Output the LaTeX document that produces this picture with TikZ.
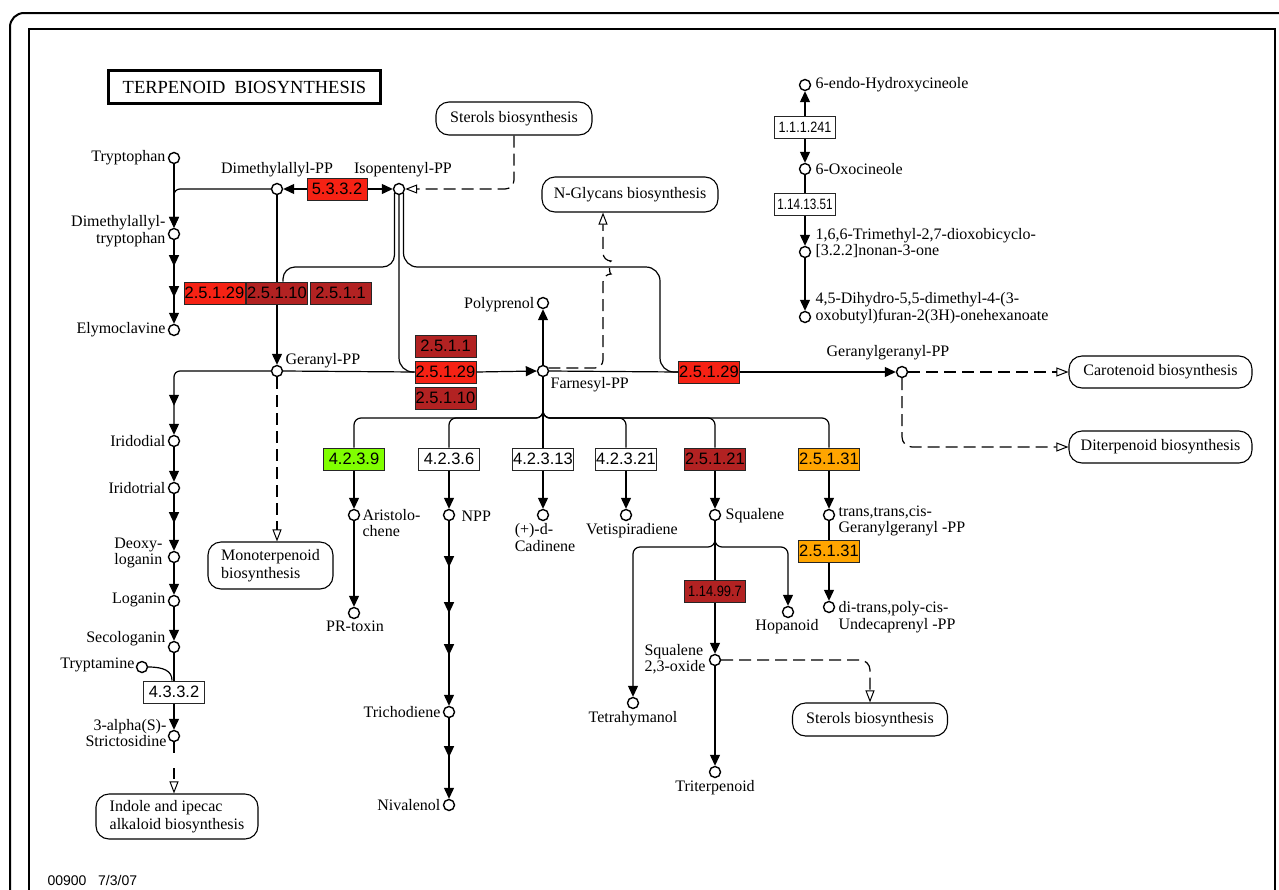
\documentclass[tikz,border=0pt]{standalone}
\usepackage{fontspec}
\setmainfont{Liberation Serif}
\setsansfont{Liberation Sans}
\usetikzlibrary{arrows.meta,decorations.markings}
\definecolor{ered}{RGB}{246,34,20}
\definecolor{edark}{RGB}{178,34,34}
\definecolor{egreen}{RGB}{128,255,0}
\definecolor{eorange}{RGB}{255,165,0}
\tikzset{
  cpd/.style={circle,draw,line width=1.4pt,fill=white,minimum size=11pt,inner sep=0pt},
  lbl/.style={font=\fontsize{16}{16.5}\selectfont,inner sep=0pt},
  enz/.style={draw=black!85,line width=1pt,minimum width=61pt,minimum height=22pt,inner sep=0pt,font=\sffamily\fontsize{16.5}{17}\selectfont},
  enzs/.style={enz,font=\sffamily\fontsize{15}{15}\selectfont},
  mapbox/.style={draw,line width=1.1pt,rounded corners=13pt,inner sep=0pt,align=left,font=\fontsize{16}{17.5}\selectfont},
  arr/.style={-{Triangle[length=11pt,width=10pt]}},
  oarr/.style={-{Triangle[open,length=12pt,width=9pt,line width=1pt]}},
  dsh/.style={dash pattern=on 12pt off 6pt},
  marr/.style={postaction={decorate,decoration={markings,mark=at position #1 with {\arrow{Triangle[length=11pt,width=10pt]}}}}},
}
\begin{document}
\begin{tikzpicture}[x=1pt,y=-1pt,line width=1.2pt]
\useasboundingbox (0,0) rectangle (1279,889);
\clip (0,0) rectangle (1279,889);
\fill[white] (0,0) rectangle (1279,889);
% frames
\draw[line width=2pt,rounded corners=14pt] (10,13) rectangle (1310,920);
\draw[line width=1.6pt] (29,29) rectangle (1275,920);
% title
\node[draw,line width=3pt,minimum width=272pt,minimum height=33pt,inner sep=0pt,font=\fontsize{18.5}{19}\selectfont] (title) at (244.5,87) {TERPENOID\ \ BIOSYNTHESIS};
\node[font=\sffamily\fontsize{14}{14}\selectfont,anchor=west,inner sep=0pt] (foot) at (47,880) {00900\ \ \ 7/3/07};

% compounds
\node[cpd] (trp) at (174,158) {};
\node[cpd] (dmapp) at (277,189) {};
\node[cpd] (ipp) at (399,189) {};
\node[cpd] (dmat) at (174,234) {};
\node[cpd] (elym) at (174,330) {};
\node[cpd] (gpp) at (277,371) {};
\node[cpd] (fpp) at (543,371) {};
\node[cpd] (polyp) at (543,303) {};
\node[cpd] (ggpp) at (902,372) {};
\node[cpd] (irid) at (174,441) {};
\node[cpd] (iridt) at (174,488) {};
\node[cpd] (deoxy) at (174,557) {};
\node[cpd] (logan) at (174,601) {};
\node[cpd] (seco) at (174,647) {};
\node[cpd] (tryptam) at (142,667) {};
\node[cpd] (strict) at (174,736) {};
\node[cpd] (aristo) at (354,515) {};
\node[cpd] (prtox) at (354,613) {};
\node[cpd] (npp) at (449,515) {};
\node[cpd] (trich) at (449,712) {};
\node[cpd] (nival) at (449,805) {};
\node[cpd] (cadin) at (543,515) {};
\node[cpd] (vetis) at (626,515) {};
\node[cpd] (squal) at (715,515) {};
\node[cpd] (tetra) at (633,703) {};
\node[cpd] (hopan) at (788,612) {};
\node[cpd] (sqox) at (715,660) {};
\node[cpd] (triterp) at (715,772) {};
\node[cpd] (ttc) at (829,515) {};
\node[cpd] (ditrans) at (829,607) {};
\node[cpd] (endo) at (805,85) {};
\node[cpd] (oxoc) at (805,169) {};
\node[cpd] (trime) at (805,252) {};
\node[cpd] (dihyd) at (805,317) {};

% compound labels
\node[lbl,anchor=east] (ltrp) at (166,158) {Tryptophan};
\node[lbl,anchor=base] (ldmapp) at (277,173) {Dimethylallyl-PP};
\node[lbl,anchor=base] (lipp) at (403,173) {Isopentenyl-PP};
\node[lbl,anchor=east,align=right] (ldmat) at (166,231) {Dimethylallyl-\\tryptophan};
\node[lbl,anchor=east] (lelym) at (166,330) {Elymoclavine};
\node[lbl,anchor=base west] (lgpp) at (285,364) {Geranyl-PP};
\node[lbl,anchor=base east] (lpolyp) at (535,308) {Polyprenol};
\node[lbl,anchor=base west] (lfpp) at (550,388) {Farnesyl-PP};
\node[lbl,anchor=base] (lggpp) at (888,356) {Geranylgeranyl-PP};
\node[lbl,anchor=east] (lirid) at (166,441) {Iridodial};
\node[lbl,anchor=east] (liridt) at (166,488) {Iridotrial};
\node[lbl,anchor=east,align=right] (ldeoxy) at (163,553) {Deoxy-\\loganin};
\node[lbl,anchor=east] (llogan) at (166,600) {Loganin};
\node[lbl,anchor=east] (lseco) at (166,639) {Secologanin};
\node[lbl,anchor=east] (ltryptam) at (135,665) {Tryptamine};
\node[lbl,anchor=east,align=right] (lstrict) at (167,733) {3-alpha(S)-\\Strictosidine};
\node[lbl,anchor=west,align=left] (laristo) at (362,523) {Aristolo-\\chene};
\node[lbl,anchor=west] (lnpp) at (461,516) {NPP};
\node[lbl,anchor=north,align=left] (lcadin) at (545,523) {(+)-d-\\Cadinene};
\node[lbl,anchor=north] (lvetis) at (632,523) {Vetispiradiene};
\node[lbl,anchor=west] (lsqual) at (725,516) {Squalene};
\node[lbl,anchor=north] (lprtox) at (355,620) {PR-toxin};
\node[lbl,anchor=east] (ltrich) at (441,712) {Trichodiene};
\node[lbl,anchor=east] (lnival) at (441,805) {Nivalenol};
\node[lbl,anchor=north] (ltetra) at (633,711) {Tetrahymanol};
\node[lbl,anchor=north] (lhopan) at (787,619) {Hopanoid};
\node[lbl,anchor=east,align=left] (lsqox) at (706,659) {Squalene\\2,3-oxide};
\node[lbl,anchor=north] (ltriterp) at (715,780) {Triterpenoid};
\node[lbl,anchor=west,align=left] (lttc) at (838,521) {trans,trans,cis-\\Geranylgeranyl -PP};
\node[lbl,anchor=west,align=left] (lditrans) at (838,617) {di-trans,poly-cis-\\Undecaprenyl -PP};
\node[lbl,anchor=west] (lendo) at (815,85) {6-endo-Hydroxycineole};
\node[lbl,anchor=west] (loxoc) at (815,169) {6-Oxocineole};
\node[lbl,anchor=west,align=left] (ltrime) at (815,243) {1,6,6-Trimethyl-2,7-dioxobicyclo-\\{}[3.2.2]nonan-3-one};
\node[lbl,anchor=west,align=left] (ldihyd) at (815,308) {4,5-Dihydro-5,5-dimethyl-4-(3-\\oxobutyl)furan-2(3H)-onehexanoate};

% enzymes
\node[enz,fill=ered,minimum width=60pt] (e5332) at (337,189) {5.3.3.2};
\node[enz,fill=ered] (e25129a) at (214.5,293) {2.5.1.29};
\node[enz,fill=edark] (e25110a) at (277,293) {2.5.1.10};
\node[enz,fill=edark] (e2511a) at (340.5,293) {2.5.1.1};
\node[enz,fill=edark] (e2511b) at (445.5,346) {2.5.1.1};
\node[enz,fill=ered] (e25129b) at (445.5,372) {2.5.1.29};
\node[enz,fill=edark] (e25110b) at (445.5,398) {2.5.1.10};
\node[enz,fill=ered] (e25129c) at (709,372) {2.5.1.29};
\node[enz,fill=egreen] (e4239) at (354,459) {4.2.3.9};
\node[enz,fill=white] (e4236) at (449,459) {4.2.3.6};
\node[enz,fill=white] (e42313) at (543,459) {4.2.3.13};
\node[enz,fill=white] (e42321) at (626,459) {4.2.3.21};
\node[enz,fill=edark] (e25121) at (715,459) {2.5.1.21};
\node[enz,fill=eorange] (e25131a) at (829,459) {2.5.1.31};
\node[enz,fill=eorange] (e25131b) at (829,551) {2.5.1.31};
\node[enzs,fill=edark] (e114997) at (715,591) {\scalebox{0.86}[1]{1.14.99.7}};
\node[enz,fill=white] (e4332) at (174,692) {4.3.3.2};
\node[enzs,fill=white] (e111241) at (805,127.5) {\scalebox{0.84}[1]{1.1.1.241}};
\node[enzs,fill=white] (e1141351) at (805,204.5) {\scalebox{0.78}[1]{1.14.13.51}};

% maps
\node[mapbox,minimum width=156pt,minimum height=33pt] (sterA) at (514,118.5) {Sterols biosynthesis};
\node[mapbox,minimum width=176pt,minimum height=35pt] (nglyc) at (630,194.5) {N-Glycans biosynthesis};
\node[mapbox,minimum width=183pt,minimum height=32pt] (carot) at (1160.5,372) {Carotenoid biosynthesis};
\node[mapbox,minimum width=183pt,minimum height=32pt] (diterp) at (1160.5,447) {Diterpenoid biosynthesis};
\node[mapbox,minimum width=125pt,minimum height=47pt] (monot) at (270.5,565.5) {Monoterpenoid\\biosynthesis};
\node[mapbox,minimum width=162pt,minimum height=45pt] (indole) at (177,816.5) {Indole and ipecac\\alkaloid biosynthesis};
\node[mapbox,minimum width=155pt,minimum height=33pt] (sterB) at (870,719.5) {Sterols biosynthesis};

% connectors: top
\draw[arr] (e5332.west) -- (dmapp.east);
\draw[arr] (e5332.east) -- (ipp.west);
\draw[dsh,oarr,rounded corners=9pt] (sterA.south) -- (514,189) -- (ipp.east);
\draw[arr] (trp) -- (dmat);
\draw[arr,rounded corners=6pt] (dmapp.west) -- (174,189) -- (dmat.north);
\draw[arr,marr=26pt,marr=57pt] (dmat) -- (elym);
\draw (dmapp) -- (e25110a);
\draw[arr] (e25110a) -- (gpp);
\draw[rounded corners=12pt] (ipp.-137) -- (394.5,267) -- (283,267) -- ([xshift=6pt]e25110a.north);
\draw[rounded corners=14pt] (ipp.south) -- (399,372) -- (e25129b.west);
\draw[rounded corners=14pt] (ipp.-43) -- (403.5,267) -- (660,267) -- (660,372) -- (e25129c.west);
\draw (gpp.east) -- (e25129b.west);
\draw[arr] (e25129b.east) -- (fpp.west);
\draw (fpp.east) -- (e25129c.west);
\draw[arr] (e25129c.east) -- (ggpp.west);
\draw[arr] (fpp) -- (polyp);
\draw[dsh,oarr,rounded corners=8pt] (fpp.30) -- (603,368) -- (603,274) .. controls (609,274) and (609,261) .. (603,261) -- ([xshift=-27pt]nglyc.south);
\draw[dsh,oarr] (ggpp.east) -- (carot.west);
\draw[dsh,oarr,rounded corners=10pt] (ggpp.south) -- (902,447) -- (diterp.west);

% left chain
\draw[arr,rounded corners=6pt,marr=129pt] (gpp.west) -- (174,371) -- (irid);
\draw[arr] (irid) -- (iridt);
\draw[arr,marr=29pt] (iridt) -- (deoxy);
\draw[arr] (deoxy) -- (logan);
\draw[arr] (logan) -- (seco);
\draw (seco) -- (e4332);
\draw (tryptam.east) .. controls (164,667) and (172,671) .. ([xshift=-2pt]e4332.north);
\draw[arr] (e4332) -- (strict);
\draw[oarr,dash pattern=on 11pt off 15pt] (strict.south) -- (strict.south |- indole.north);
\draw[dsh,oarr] (gpp.south) -- (gpp.south |- monot.north);

% farnesyl branches
\coordinate (fsplit) at (543,411);
\draw (fpp.south) -- (e42313.north);
\draw[rounded corners=7pt] (fsplit) -- (543,418) -- (354,418) -- (e4239.north);
\draw[rounded corners=7pt] (fsplit) -- (543,418) -- (449,418) -- (e4236.north);
\draw[rounded corners=7pt] (fsplit) -- (543,418) -- (626,418) -- (e42321.north);
\draw[rounded corners=7pt] (fsplit) -- (543,418) -- (715,418) -- (e25121.north);
\draw[rounded corners=7pt] (fsplit) -- (543,418) -- (829,418) -- (e25131a.north);
\draw[arr] (e4239) -- (aristo);
\draw[arr] (e4236) -- (npp);
\draw[arr] (e42313) -- (cadin);
\draw[arr] (e42321) -- (vetis);
\draw[arr] (e25121) -- (squal);
\draw[arr] (e25131a) -- (ttc);
\draw[arr] (aristo) -- (prtox);
\draw[arr,marr=46pt,marr=92pt,marr=134pt] (npp) -- (trich);
\draw[arr,marr=39pt] (trich) -- (nival);

% squalene branches
\coordinate (ssplit) at (715,540);
\draw (squal) -- (e114997);
\draw[arr,rounded corners=7pt] (ssplit) -- (715,547) -- (633,547) -- (tetra);
\draw[arr,rounded corners=7pt] (ssplit) -- (715,547) -- (788,547) -- (hopan);
\draw[arr] (e114997) -- (sqox);
\draw[arr] (sqox) -- (triterp);
\draw[dsh,oarr,rounded corners=10pt] (sqox.east) -- (870,660) -- (sterB.north);
\draw (ttc) -- (e25131b);
\draw[arr] (e25131b) -- (ditrans);

% right top chain
\draw[arr] (e111241) -- (endo);
\draw[arr] (e111241) -- (oxoc);
\draw (oxoc) -- (e1141351);
\draw[arr] (e1141351) -- (trime);
\draw[arr] (trime) -- (dihyd);
\end{tikzpicture}
\end{document}
